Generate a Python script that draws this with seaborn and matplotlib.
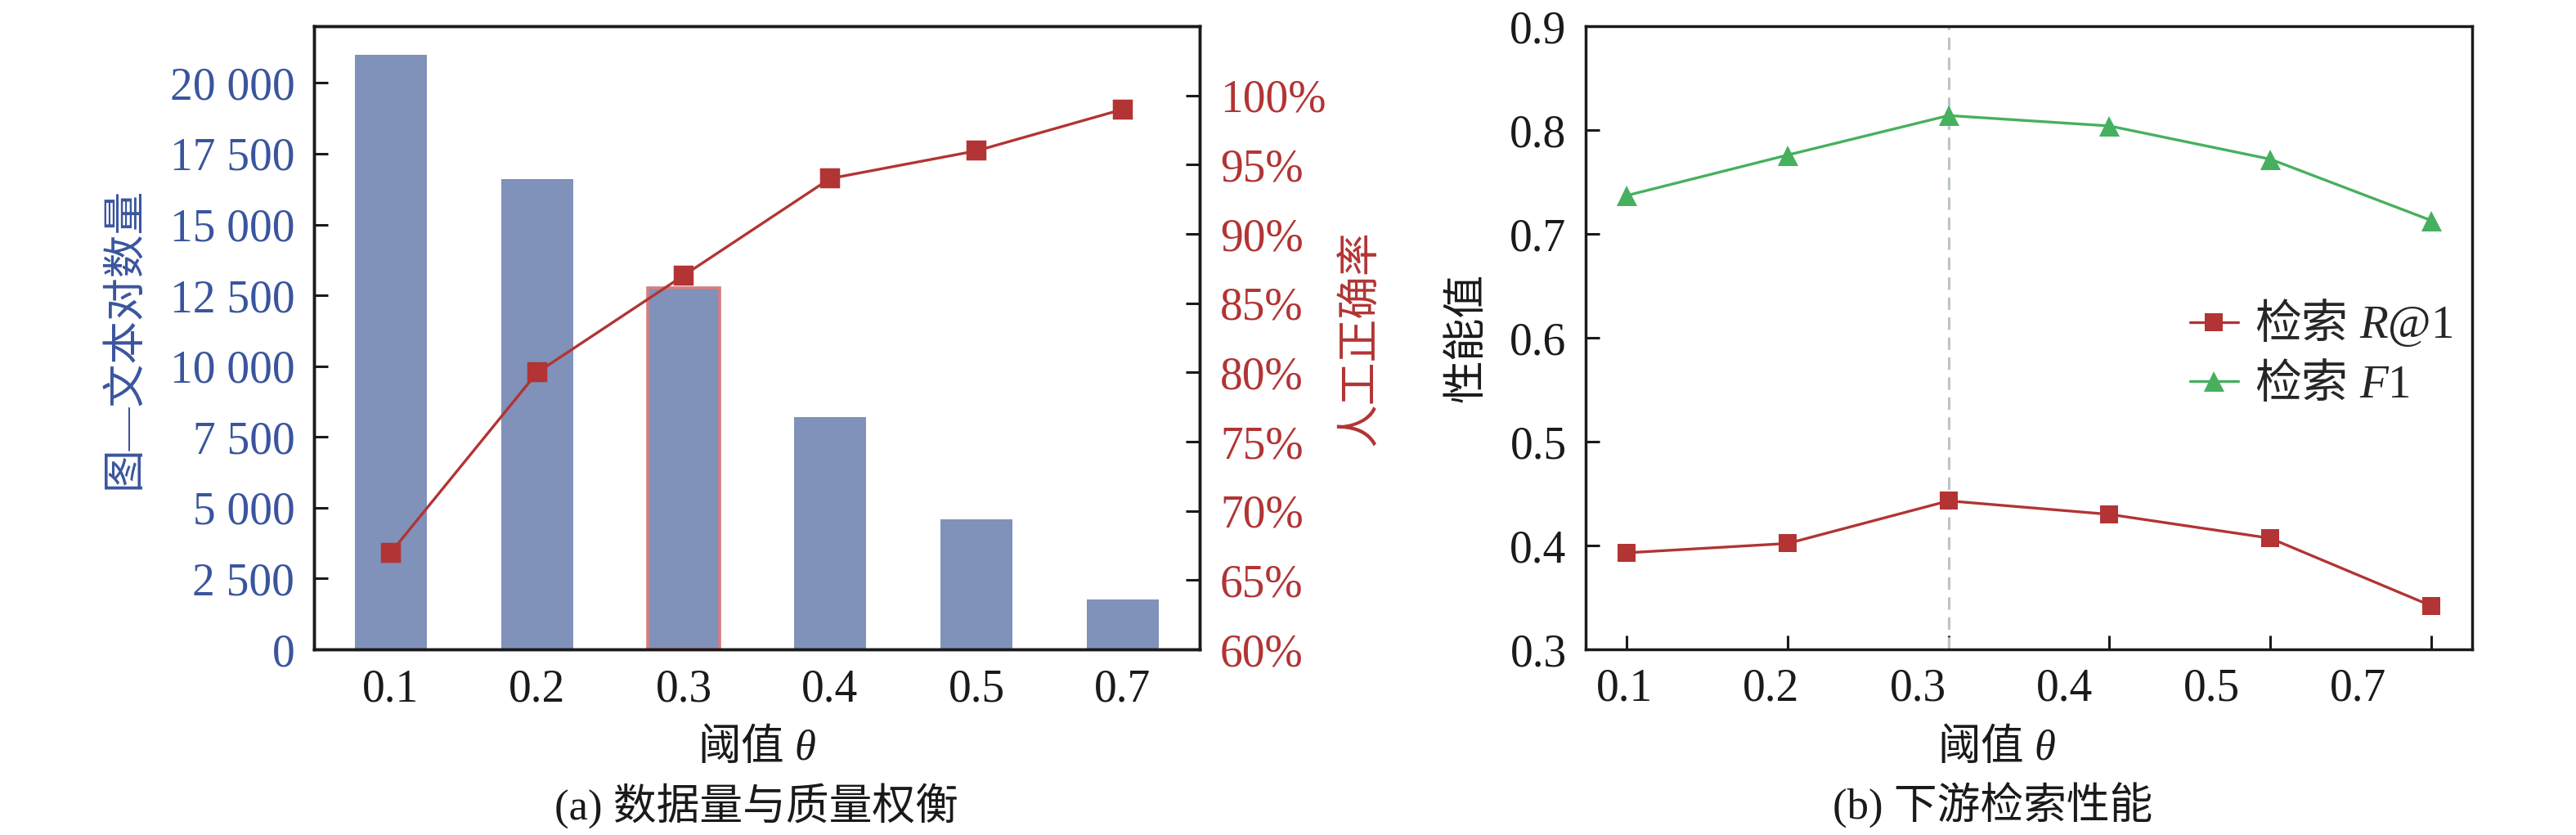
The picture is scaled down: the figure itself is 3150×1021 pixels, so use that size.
import numpy as np
import pandas as pd
import matplotlib
matplotlib.use('Agg')
import matplotlib.pyplot as plt
import matplotlib.transforms as mtrans
import seaborn as sns

# ---------------- data ----------------
thresholds = ['0.1', '0.2', '0.3', '0.4', '0.5', '0.7']
pair_counts = [21000, 16600, 12750, 8200, 4600, 1750]      # 图—文本对数量
human_acc = [67, 80, 87, 94, 96, 99]                       # 人工正确率 (%)
recall_at1 = [0.393, 0.402, 0.443, 0.430, 0.407, 0.342]    # 检索 R@1
f1_score = [0.737, 0.776, 0.814, 0.804, 0.772, 0.713]      # 检索 F1

count_ticks = [0, 2500, 5000, 7500, 10000, 12500, 15000, 17500, 20000]
acc_ticks = [60, 65, 70, 75, 80, 85, 90, 95, 100]
perf_ticks = [0.3, 0.4, 0.5, 0.6, 0.7, 0.8, 0.9]

# ---------------- style ----------------
sns.set_style('ticks')
plt.rcParams['font.family'] = ['Liberation Serif', 'Noto Sans CJK SC']
# mathtext: latin in Liberation Serif, chinese pieces through \mathsf
plt.rcParams['mathtext.fontset'] = 'custom'
plt.rcParams['mathtext.rm'] = 'Liberation Serif'
plt.rcParams['mathtext.it'] = 'Liberation Serif:italic'
plt.rcParams['mathtext.sf'] = 'Noto Sans CJK SC'
plt.rcParams['axes.unicode_minus'] = False

BAR = '#8091BA'
BLUE = '#3A559E'
RED = '#B23434'
EDGE = '#D67E80'
GREEN = '#46B05E'
GRAY = '#BCC3C9'
INK = '#1a1a1a'

TICK_FS = 40
LAB_FS = 38
LW = 2.4

xlab = '$\\mathsf{阈值}$ $\\theta$'

fig = plt.figure(figsize=(31.5, 10.21), dpi=100)
ax = fig.add_axes([0.1219, 0.2223, 0.3438, 0.7463])
bx = fig.add_axes([0.6156, 0.2223, 0.3441, 0.7463])

# ---------------- (a) ----------------
df_a = pd.DataFrame({'thr': thresholds, 'count': pair_counts, 'acc': human_acc})
sns.barplot(data=df_a, x='thr', y='count', color=BAR, width=0.49,
            saturation=1, ax=ax, linewidth=0)
# highlight chosen threshold
for p, t in zip(ax.patches, thresholds):
    if t == '0.3':
        p.set_edgecolor(EDGE)
        p.set_linewidth(2.6)

ax2 = ax.twinx()
sns.pointplot(data=df_a, x='thr', y='acc', color=RED, marker='s',
              markersize=16, linewidth=LW, errorbar=None, ax=ax2)

ax.set_xlim(-0.525, 5.525)
ax.set_ylim(0, 22000)
ax2.set_ylim(60, 105)
ax.set_yticks(count_ticks, labels=['{:,}'.format(v).replace(',', ' ') for v in count_ticks])
ax2.set_yticks(acc_ticks, labels=['{}%'.format(v) for v in acc_ticks])

ax.tick_params(axis='both', direction='in', length=12, width=2.2,
               labelsize=TICK_FS, pad=17, color=INK)
ax.tick_params(axis='y', labelcolor=BLUE)
ax.tick_params(axis='x', labelcolor=INK)
ax2.tick_params(axis='y', direction='in', length=12, width=2.2,
                labelsize=TICK_FS, pad=18, labelcolor=RED, color=INK)
ax2.tick_params(axis='x', length=0)

ax.set_xlabel(xlab, fontsize=LAB_FS, color=INK)
ax.set_ylabel('图—文本对数量', fontsize=LAB_FS, color=BLUE)
ax2.set_ylabel('人工正确率', fontsize=LAB_FS, color=RED)
ax.xaxis.set_label_coords(0.5, -0.122)
ax.yaxis.set_label_coords(-0.190, 0.5)
ax2.yaxis.set_label_coords(1.160, 0.5)

for a in (ax, ax2):
    for s in a.spines.values():
        s.set_linewidth(2.5)
        s.set_color(INK)

# ---------------- (b) ----------------
pos = np.arange(len(thresholds))
best = int(np.argmax(f1_score))
bx.axvline(pos[best], color=GRAY, ls=(0, (5, 3)), lw=2.2, zorder=1)
sns.lineplot(x=pos, y=recall_at1, color=RED, marker='s', markersize=16,
             markeredgewidth=0, linewidth=LW, label='$\\mathsf{检索}$ $R$@1',
             ax=bx, zorder=3)
sns.lineplot(x=pos, y=f1_score, color=GREEN, marker='^', markersize=18,
             markeredgewidth=0, linewidth=LW, label='$\\mathsf{检索}$ $F$1',
             ax=bx, zorder=3)

bx.set_xlim(-0.255, 5.255)
bx.set_ylim(0.3, 0.9)
bx.set_yticks(perf_ticks, labels=['{:.1f}'.format(v) for v in perf_ticks])
bx.set_xticks(pos, labels=[''] * len(pos))
bx.tick_params(axis='both', direction='in', length=12, width=2.2,
               labelsize=TICK_FS, pad=17, color=INK, labelcolor=INK)
# tick labels sit slightly off the ticks in the original figure
trans = mtrans.blended_transform_factory(bx.transData, bx.transAxes)
for i, t in enumerate(thresholds):
    bx.text(i * 0.912 - 0.015, -0.030, t, transform=trans, ha='center',
            va='top', fontsize=TICK_FS, color=INK)

bx.set_xlabel(xlab, fontsize=LAB_FS, color=INK)
bx.set_ylabel('性能值', fontsize=LAB_FS, color=INK)
bx.xaxis.set_label_coords(0.464, -0.122)
bx.yaxis.set_label_coords(-0.110, 0.5)
for s in bx.spines.values():
    s.set_linewidth(2.5)
    s.set_color(INK)

bx.legend(loc='center left', bbox_to_anchor=(0.655, 0.477), frameon=False,
          fontsize=41, borderpad=0, handlelength=1.05, handletextpad=0.35,
          labelspacing=0.25)

# ---------------- captions ----------------
fig.text(925 / 3150, 0.035, '(a) 数据量与质量权衡', ha='center', va='center',
         fontsize=LAB_FS, color=INK)
fig.text(2437 / 3150, 0.035, '(b) 下游检索性能', ha='center', va='center',
         fontsize=LAB_FS, color=INK)

fig.savefig('out.png', dpi=100, facecolor='white')
